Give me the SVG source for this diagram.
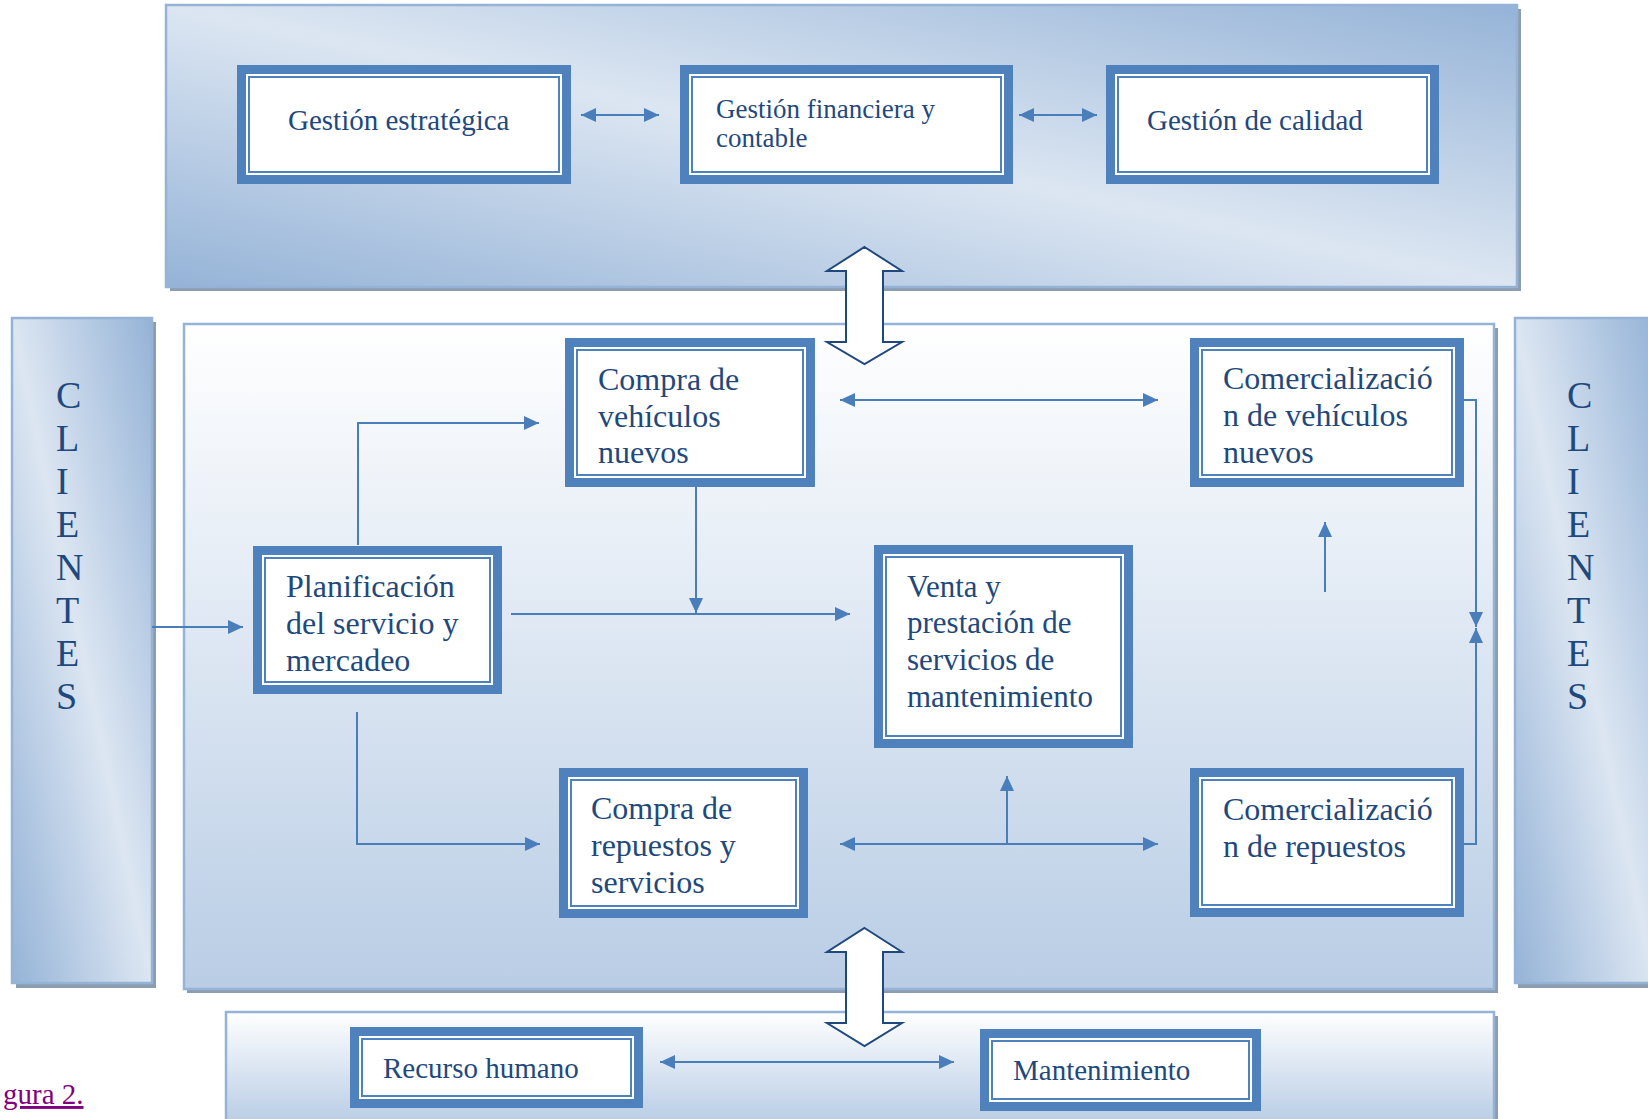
<svg xmlns="http://www.w3.org/2000/svg" width="1648" height="1119" viewBox="0 0 1648 1119">
<defs>
<linearGradient id="gDiag" x1="0" y1="1" x2="1" y2="0">
<stop offset="0" stop-color="#95b3d7"/>
<stop offset="0.5" stop-color="#dce6f2"/>
<stop offset="1" stop-color="#95b3d7"/>
</linearGradient>
<linearGradient id="gVert" x1="0" y1="0" x2="0" y2="1">
<stop offset="0" stop-color="#ffffff"/>
<stop offset="1" stop-color="#b9cde5"/>
</linearGradient>
<marker id="ah" viewBox="0 0 15 14" refX="15" refY="7" markerWidth="15" markerHeight="14" markerUnits="userSpaceOnUse" orient="auto-start-reverse">
<path d="M0,0 L15,7 L0,14 z" fill="#4a7ebb"/>
</marker>
</defs>
<style>
.shadow{fill:#8c9cb1}
.panel{stroke:#95b3d7;stroke-width:2.5}
.ob{fill:#ffffff;stroke:#4f81bd;stroke-width:9}
.ib{fill:none;stroke:#4f81bd;stroke-width:2}
.t{font-family:"Liberation Serif","Times New Roman",serif;fill:#1f497d}
.c{fill:none;stroke:#4a7ebb;stroke-width:2}
.big{fill:#ffffff;stroke:#1f497d;stroke-width:2;stroke-linejoin:miter}
</style>
<rect width="1648" height="1119" fill="#ffffff"/>

<g id="panels">
<rect class="shadow" x="170" y="9" width="1351" height="282"/>
<rect class="panel" x="166" y="5" width="1351" height="282" fill="url(#gDiag)"/>
<rect class="shadow" x="187" y="328" width="1311" height="665"/>
<rect class="panel" x="184" y="324" width="1310" height="665" fill="url(#gVert)"/>
<rect class="shadow" x="16" y="322" width="140" height="666"/>
<rect class="panel" x="12" y="318" width="140" height="665" fill="url(#gDiag)"/>
<rect class="shadow" x="1518" y="322" width="140" height="666"/>
<rect class="panel" x="1515" y="318" width="140" height="665" fill="url(#gDiag)"/>
<rect class="shadow" x="229" y="1016" width="1269" height="110"/>
<rect class="panel" x="226" y="1012" width="1268" height="110" fill="url(#gVert)"/>
</g>

<g id="clientes-left" class="t" font-size="38">
<text x="56" y="408">C</text>
<text x="56" y="451">L</text>
<text x="56" y="494">I</text>
<text x="56" y="537">E</text>
<text x="56" y="580">N</text>
<text x="56" y="623">T</text>
<text x="56" y="666">E</text>
<text x="56" y="709">S</text>
</g>
<g id="clientes-right" class="t" font-size="38">
<text x="1567" y="408">C</text>
<text x="1567" y="451">L</text>
<text x="1567" y="494">I</text>
<text x="1567" y="537">E</text>
<text x="1567" y="580">N</text>
<text x="1567" y="623">T</text>
<text x="1567" y="666">E</text>
<text x="1567" y="709">S</text>
</g>

<g id="connectors">
<line class="c" x1="581" y1="115" x2="659" y2="115" marker-start="url(#ah)" marker-end="url(#ah)"/>
<line class="c" x1="1019" y1="115" x2="1097" y2="115" marker-start="url(#ah)" marker-end="url(#ah)"/>
<line class="c" x1="840" y1="400" x2="1158" y2="400" marker-start="url(#ah)" marker-end="url(#ah)"/>
<path class="c" d="M358,545 V423 H539" marker-end="url(#ah)"/>
<path class="c" d="M152,627 H243" marker-end="url(#ah)"/>
<path class="c" d="M511,614 H850" marker-end="url(#ah)"/>
<path class="c" d="M696,487 V613" marker-end="url(#ah)"/>
<path class="c" d="M357,712 V844 H540" marker-end="url(#ah)"/>
<line class="c" x1="840" y1="844" x2="1158" y2="844" marker-start="url(#ah)" marker-end="url(#ah)"/>
<path class="c" d="M1007,844 V776" marker-end="url(#ah)"/>
<path class="c" d="M1325,592 V522" marker-end="url(#ah)"/>
<path class="c" d="M1464,400 H1476 V627" marker-end="url(#ah)"/>
<path class="c" d="M1464,844 H1476 V628" marker-end="url(#ah)"/>
<line class="c" x1="660" y1="1062" x2="954" y2="1062" marker-start="url(#ah)" marker-end="url(#ah)"/>
<path id="big-arrow-top" class="big" d="M864.5,247 L902,271 L883,271 L883,342 L902,342 L864.5,364 L827,342 L846,342 L846,271 L827,271 Z"/>
<path id="big-arrow-bottom" class="big" d="M864.5,928 L902,952 L883,952 L883,1023 L902,1023 L864.5,1046 L827,1023 L846,1023 L846,952 L827,952 Z"/>
</g>

<g id="n-estrategica">
<rect class="ob" x="241.5" y="69.5" width="325" height="110"/>
<rect class="ib" x="249" y="77" width="310" height="95"/>
<text class="t" x="288" y="130" font-size="29">Gestión estratégica</text>
</g>
<g id="n-financiera">
<rect class="ob" x="684.5" y="69.5" width="324" height="110"/>
<rect class="ib" x="692" y="77" width="309" height="95"/>
<text class="t" x="716" y="118" font-size="27">Gestión financiera y</text>
<text class="t" x="716" y="147" font-size="27">contable</text>
</g>
<g id="n-calidad">
<rect class="ob" x="1110.5" y="69.5" width="324" height="110"/>
<rect class="ib" x="1118" y="77" width="309" height="95"/>
<text class="t" x="1147" y="130" font-size="29">Gestión de calidad</text>
</g>

<g id="n-compra-vehiculos">
<rect class="ob" x="569.5" y="342.5" width="241" height="140"/>
<rect class="ib" x="577" y="350" width="226" height="125"/>
<text class="t" font-size="32"><tspan x="598" y="390">Compra de</tspan><tspan x="598" y="427">vehículos</tspan><tspan x="598" y="463">nuevos</tspan></text>
</g>
<g id="n-comer-vehiculos">
<rect class="ob" x="1194.5" y="342.5" width="265" height="140"/>
<rect class="ib" x="1202" y="350" width="250" height="125"/>
<text class="t" font-size="32"><tspan x="1223" y="389">Comercializació</tspan><tspan x="1223" y="426">n de vehículos</tspan><tspan x="1223" y="463">nuevos</tspan></text>
</g>
<g id="n-planificacion">
<rect class="ob" x="257.5" y="550.5" width="240" height="139"/>
<rect class="ib" x="265" y="558" width="225" height="124"/>
<text class="t" font-size="32"><tspan x="286" y="597">Planificación</tspan><tspan x="286" y="634">del servicio y</tspan><tspan x="286" y="671">mercadeo</tspan></text>
</g>
<g id="n-venta">
<rect class="ob" x="878.5" y="549.5" width="250" height="194"/>
<rect class="ib" x="886" y="557" width="235" height="179"/>
<text class="t" font-size="31"><tspan x="907" y="597">Venta y</tspan><tspan x="907" y="633">prestación de</tspan><tspan x="907" y="670">servicios de</tspan><tspan x="907" y="707">mantenimiento</tspan></text>
</g>
<g id="n-compra-repuestos">
<rect class="ob" x="563.5" y="772.5" width="240" height="141"/>
<rect class="ib" x="571" y="780" width="225" height="126"/>
<text class="t" font-size="32"><tspan x="591" y="819">Compra de</tspan><tspan x="591" y="856">repuestos y</tspan><tspan x="591" y="893">servicios</tspan></text>
</g>
<g id="n-comer-repuestos">
<rect class="ob" x="1194.5" y="772.5" width="265" height="140"/>
<rect class="ib" x="1202" y="780" width="250" height="125"/>
<text class="t" font-size="32"><tspan x="1223" y="820">Comercializació</tspan><tspan x="1223" y="857">n de repuestos</tspan></text>
</g>
<g id="n-recurso">
<rect class="ob" x="354.5" y="1031.5" width="284" height="72"/>
<rect class="ib" x="362" y="1039" width="269" height="57"/>
<text class="t" x="383" y="1078" font-size="29">Recurso humano</text>
</g>
<g id="n-mantenimiento">
<rect class="ob" x="984.5" y="1033.5" width="272" height="73"/>
<rect class="ib" x="992" y="1041" width="257" height="58"/>
<text class="t" x="1013" y="1080" font-size="29">Mantenimiento</text>
</g>

<text id="caption" x="3" y="1104" font-family="Liberation Serif, Times New Roman, serif" font-size="29" fill="#800080" text-decoration="underline">gura 2.</text>
</svg>
